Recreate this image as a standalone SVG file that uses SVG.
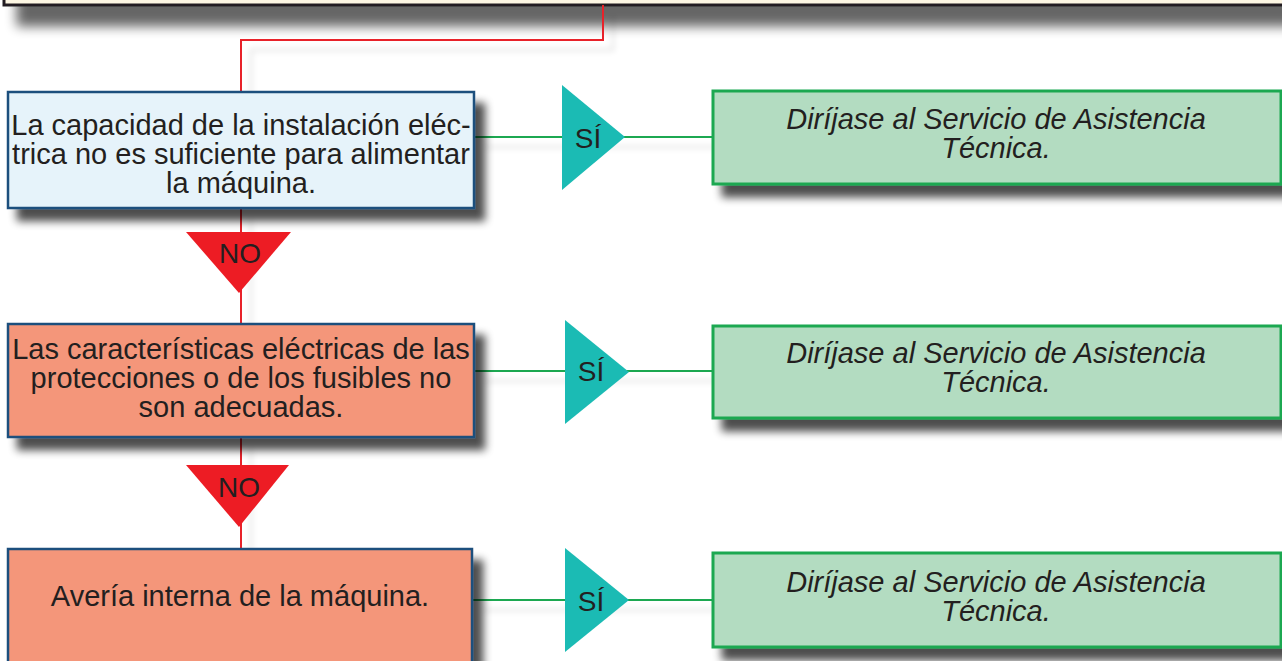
<svg xmlns="http://www.w3.org/2000/svg" width="1282" height="661" viewBox="0 0 1282 661">
<defs>
<filter id="sh" x="-10%" y="-20%" width="130%" height="160%">
<feGaussianBlur in="SourceAlpha" stdDeviation="4.5"/>
<feOffset dx="10" dy="12" result="o"/>
<feComponentTransfer><feFuncA type="linear" slope="0.7"/></feComponentTransfer>
<feMerge><feMergeNode/><feMergeNode in="SourceGraphic"/></feMerge>
</filter>
<filter id="tsh" x="-10%" y="-50%" width="130%" height="250%">
<feGaussianBlur in="SourceAlpha" stdDeviation="6"/>
<feOffset dx="14" dy="20"/>
<feComponentTransfer><feFuncA type="linear" slope="0.6"/></feComponentTransfer>
<feMerge><feMergeNode/><feMergeNode in="SourceGraphic"/></feMerge>
</filter>
<filter id="lsh" x="-10%" y="-10%" width="130%" height="130%">
<feGaussianBlur in="SourceAlpha" stdDeviation="3"/>
<feOffset dx="10" dy="10"/>
<feComponentTransfer><feFuncA type="linear" slope="0.15"/></feComponentTransfer>
<feMerge><feMergeNode/><feMergeNode in="SourceGraphic"/></feMerge>
</filter>
<style>
.t{font-family:"Liberation Sans",Arial,sans-serif;fill:#231f20;text-anchor:middle}
.bt{font-size:29px}
.it{font-size:29px;font-style:italic}
.lb{font-size:28px}
.blue{fill:#e6f3fa;stroke:#1b4f7d;stroke-width:2.5}
.sal{fill:#f4967a;stroke:#1b4f7d;stroke-width:2.5}
.grn{fill:#b3dcc1;stroke:#1da851;stroke-width:3}
.red{fill:none;stroke:#e8202a;stroke-width:2}
.gl{fill:none;stroke:#1da851;stroke-width:2}
.yes{fill:#1bbbb4}
.no{fill:#ed1c24}
</style>
</defs>
<rect width="1282" height="661" fill="#ffffff"/>
<g id="top">
<rect x="4" y="-30" width="1290" height="35" fill="#fdf6e3" stroke="#231f20" stroke-width="3" filter="url(#tsh)"/>
</g>
<g id="connectors" filter="url(#lsh)">
<path class="red" d="M603,5 V40 H241 V92"/>
<path class="red" d="M241,208 V324"/>
<path class="red" d="M241,437 V549"/>
<path class="gl" d="M474,137 H713"/>
<path class="gl" d="M474,371 H713"/>
<path class="gl" d="M472,600 H713"/>
</g>
<g id="q1">
<rect class="blue" x="8" y="92" width="466" height="116" filter="url(#sh)"/>
<text class="t bt" x="241" y="135">La capacidad de la instalación eléc-</text>
<text class="t bt" x="241" y="164">trica no es suficiente para alimentar</text>
<text class="t bt" x="241" y="193">la máquina.</text>
</g>
<g id="q2">
<rect class="sal" x="8" y="324" width="466" height="113" filter="url(#sh)"/>
<text class="t bt" x="241" y="359">Las características eléctricas de las</text>
<text class="t bt" x="241" y="388">protecciones o de los fusibles no</text>
<text class="t bt" x="241" y="417">son adecuadas.</text>
</g>
<g id="q3">
<rect class="sal" x="8" y="549" width="464" height="130" filter="url(#sh)"/>
<text class="t bt" x="240" y="606">Avería interna de la máquina.</text>
</g>
<g id="no1">
<polygon class="no" points="186,232 291,232 239,293"/>
<text class="t lb" x="240" y="263">NO</text>
</g>
<g id="no2">
<polygon class="no" points="186,465 289,465 239,527"/>
<text class="t lb" x="239" y="497">NO</text>
</g>
<g id="si1">
<polygon class="yes" points="562,85 562,190 625,137"/>
<text class="t lb" x="588" y="148">SÍ</text>
</g>
<g id="si2">
<polygon class="yes" points="565,320 565,424 629,372"/>
<text class="t lb" x="591" y="381">SÍ</text>
</g>
<g id="si3">
<polygon class="yes" points="565,548 565,652 629,600"/>
<text class="t lb" x="591" y="611">SÍ</text>
</g>
<g id="a1">
<rect class="grn" x="713" y="91" width="568" height="93" filter="url(#sh)"/>
<text class="t it" x="996" y="129">Diríjase al Servicio de Asistencia</text>
<text class="t it" x="996" y="158">Técnica.</text>
</g>
<g id="a2">
<rect class="grn" x="713" y="326" width="568" height="92" filter="url(#sh)"/>
<text class="t it" x="996" y="363">Diríjase al Servicio de Asistencia</text>
<text class="t it" x="996" y="392">Técnica.</text>
</g>
<g id="a3">
<rect class="grn" x="713" y="553" width="568" height="94" filter="url(#sh)"/>
<text class="t it" x="996" y="592">Diríjase al Servicio de Asistencia</text>
<text class="t it" x="996" y="621">Técnica.</text>
</g>
</svg>
